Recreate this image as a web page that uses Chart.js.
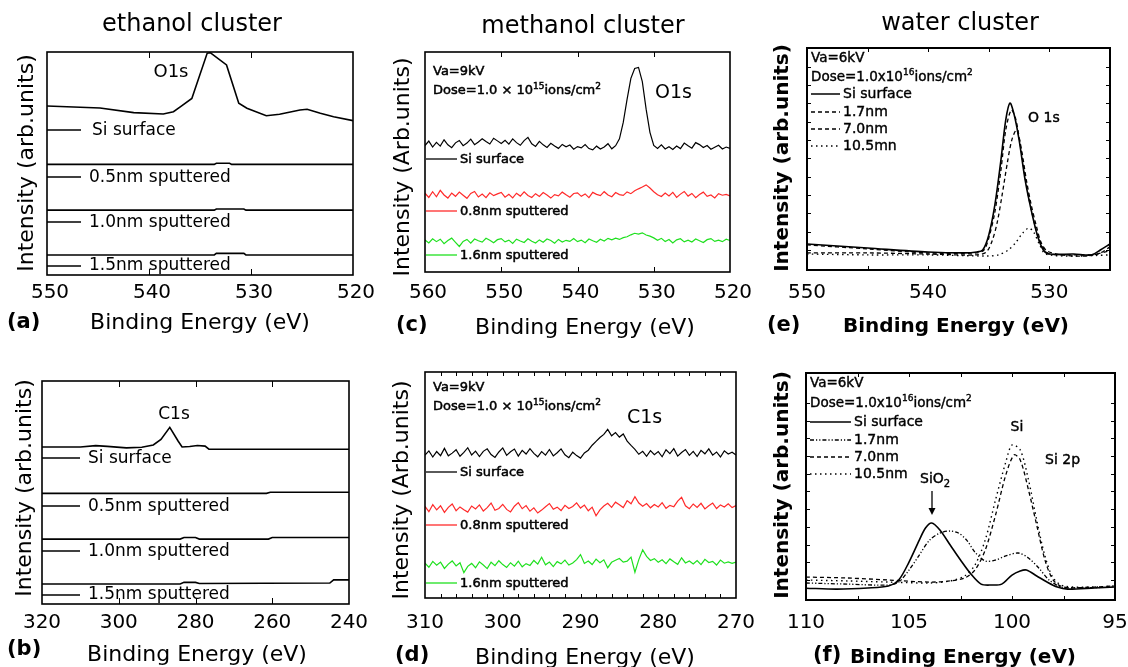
<!DOCTYPE html>
<html>
<head>
<meta charset="utf-8">
<script src="https://cdn.jsdelivr.net/npm/chart.js@4/dist/chart.umd.min.js"></script>
<style>
  body { margin: 0; background: #fff; width: 1128px; height: 667px; overflow: hidden; position: relative; }
  canvas { position: absolute; left: 0; top: 0; }
</style>
</head>
<body>
<canvas id="pa" width="1128" height="667"></canvas>
<canvas id="pb" width="1128" height="667"></canvas>
<canvas id="pc" width="1128" height="667"></canvas>
<canvas id="pd" width="1128" height="667"></canvas>
<canvas id="pe" width="1128" height="667"></canvas>
<canvas id="pf" width="1128" height="667"></canvas>
<script>
// ---------- data (intensity in arbitrary units, 0-100 per panel) ----------

// tick labels
const aTicks = [550, 540, 530, 520];
const bTicks = [320, 300, 280, 260, 240];
const cTicks = [560, 550, 540, 530, 520];
const dTicks = [310, 300, 290, 280, 270];
const eTicks = [550, 540, 530];
const fTicks = [110, 105, 100, 95];

// (a) ethanol cluster, O1s
const aSurfE = [550, 544.8, 541.5, 538.6, 537.6, 536.8, 535.8, 534.3, 534.0, 532.4, 531.2, 530.4, 528.5, 527.2, 525.2, 524.5, 523.2, 521.9, 520];
const aSurfI = [75.8, 74.9, 72.8, 72.2, 73.2, 75.8, 79.2, 99.4, 99.7, 94.2, 77.0, 74.8, 71.4, 72.1, 74.0, 74.3, 72.5, 71.0, 69.2];
const aS05E = [550, 533.6, 533.4, 532.1, 531.9, 520];
const aS05I = [49.6, 49.6, 50.1, 50.1, 49.6, 49.6];
const aS10E = [550, 533.6, 533.4, 530.7, 530.5, 520];
const aS10I = [29.1, 29.1, 29.6, 29.6, 29.1, 29.1];
const aS15E = [550, 533.6, 533.4, 530.7, 530.5, 520];
const aS15I = [9.0, 9.0, 9.7, 9.7, 9.0, 9.0];

// (b) ethanol cluster, C1s
const bSurfE = [320, 310, 306, 303, 298, 294, 291, 289, 286.7, 284.5, 283.5, 281.5, 279.5, 277.5, 276.5, 240];
const bSurfI = [70.4, 70.4, 71.0, 70.7, 70.0, 70.3, 71.3, 73.8, 79.2, 73.0, 70.4, 70.6, 71.1, 70.8, 69.4, 69.4];
const bS05E = [320, 261.5, 260.5, 240];
const bS05I = [49.6, 49.6, 50.1, 50.1];
const bS10E = [320, 284, 283, 280, 279, 261, 260, 240];
const bS10I = [29.1, 29.1, 29.8, 29.8, 29.1, 29.1, 29.8, 29.8];
const bS15E = [320, 284, 283, 280, 279, 245, 244, 240];
const bS15I = [9.0, 9.0, 9.7, 9.7, 9.2, 9.4, 10.8, 10.8];

// (c) methanol cluster, O1s
const cEnergy = [560, 559.5, 559, 558.5, 558, 557.5, 557, 556.5, 556, 555.5, 555, 554.5, 554, 553.5, 553, 552.5, 552, 551.5, 551, 550.5,
  550, 549.5, 549, 548.5, 548, 547.5, 547, 546.5, 546, 545.5, 545, 544.5, 544, 543.5, 543, 542.5, 542, 541.5, 541, 540.5,
  540, 539.5, 539, 538.5, 538, 537.5, 537, 536.5, 536, 535.5, 535, 534.5, 534, 533.5, 533, 532.5, 532, 531.5, 531, 530.5,
  530, 529.5, 529, 528.5, 528, 527.5, 527, 526.5, 526, 525.5, 525, 524.5, 524, 523.5, 523, 522.5, 522, 521.5, 521, 520.5, 520];
const cSurf = [57.5, 59.5, 56.8, 58.9, 57.2, 60.1, 57.8, 56.5, 58.7, 59.8, 57.4, 58.6, 60.4, 57.9, 59.1, 60.6, 59.3, 58.2, 60.8, 59.6,
  58.4, 59.9, 58.1, 60.5, 58.8, 57.6, 59.7, 61.2, 58.3, 57.1, 59.4, 57.8, 56.6, 58.5, 57.3, 56.2, 58.0, 56.9, 57.7, 55.8,
  57.0, 56.4, 57.9, 56.1, 55.5, 57.2, 55.9, 56.8, 58.3, 56.0, 57.4, 60.5, 68.0, 78.5, 88.0, 92.5, 93.0, 86.5, 74.0, 63.5,
  57.5, 56.2, 57.8, 55.9, 56.9, 55.7, 57.3, 56.1, 58.6, 57.4, 56.3, 58.8, 57.9, 56.6, 57.5, 55.8, 56.7, 57.6, 55.9, 56.8, 56.2];
const cS08 = [35.8, 33.9, 36.5, 34.2, 37.1, 35.0, 33.6, 35.9, 34.4, 36.3, 34.9, 33.5, 35.7, 36.6, 34.1, 35.4, 33.8, 36.0, 34.7, 35.5,
  36.2, 34.0, 35.3, 33.7, 35.8, 34.5, 36.4, 34.8, 33.9, 35.6, 34.3, 36.1, 35.0, 33.6, 35.2, 34.6, 36.3, 35.1, 34.0, 35.7,
  36.0, 34.4, 35.5, 33.8, 36.2, 35.3, 34.7, 36.5, 35.0, 34.2, 36.1, 35.2, 34.8, 36.4, 35.6, 36.9, 37.8, 38.6, 39.6, 38.2,
  36.5, 35.1, 34.3, 35.9, 34.6, 36.2, 33.9, 35.4, 36.6, 34.5, 35.7, 33.8, 35.2, 36.3, 34.4, 35.0, 33.7, 35.6, 34.9, 35.3, 34.6];
const cS16 = [14.6, 13.2, 15.1, 13.8, 14.9, 12.9, 14.3, 15.4, 13.5, 11.6, 13.9, 14.8, 13.1, 15.0, 14.2, 13.6, 15.3, 14.4, 13.3, 14.7,
  15.2, 13.7, 14.5, 13.0, 14.9, 14.1, 13.4, 15.1, 14.0, 13.2, 14.6, 13.5, 15.0, 14.3, 13.1, 14.8, 13.6, 14.4, 13.9, 15.2,
  13.8, 14.5, 13.3, 15.0, 14.2, 13.5, 14.9, 14.1, 15.3, 14.6, 15.4, 14.8, 15.6, 16.0, 16.9, 17.6, 17.2, 17.8, 16.8, 16.3,
  15.5, 14.4, 15.3, 13.9, 14.8, 13.2, 14.6, 15.1, 13.7, 14.5, 13.6, 15.0, 14.2, 13.4, 14.7, 15.2, 13.9, 14.5, 13.8, 14.9, 14.3];

// (d) methanol cluster, C1s
const dEnergy = [310, 309.5, 309, 308.5, 308, 307.5, 307, 306.5, 306, 305.5, 305, 304.5, 304, 303.5, 303, 302.5, 302, 301.5, 301, 300.5,
  300, 299.5, 299, 298.5, 298, 297.5, 297, 296.5, 296, 295.5, 295, 294.5, 294, 293.5, 293, 292.5, 292, 291.5, 291, 290.5,
  290, 289.5, 289, 288.5, 288, 287.5, 287, 286.5, 286, 285.5, 285, 284.5, 284, 283.5, 283, 282.5, 282, 281.5, 281, 280.5,
  280, 279.5, 279, 278.5, 278, 277.5, 277, 276.5, 276, 275.5, 275, 274.5, 274, 273.5, 273, 272.5, 272, 271.5, 271, 270.5, 270];
const dSurf = [63.2, 65.1, 62.4, 64.8, 63.0, 66.2, 62.9, 64.1, 65.6, 62.7, 64.4, 66.5, 63.3, 65.0, 62.6, 64.9, 66.0, 63.5, 62.2, 64.6,
  66.4, 63.1, 64.7, 65.9, 62.8, 65.3, 63.7, 66.1, 64.0, 62.5, 64.8, 63.2, 65.7, 62.9, 64.3, 66.0, 63.4, 62.1, 64.5, 63.0,
  61.9, 64.2, 65.4, 67.6, 69.3, 71.0, 72.4, 74.6, 71.8, 73.2, 71.2, 72.6, 69.4, 67.5, 65.8, 63.6, 64.9, 62.7, 65.2, 63.4,
  64.8, 62.5, 65.6, 63.9, 66.1, 62.8, 64.4, 65.7, 63.1, 64.9, 62.6, 65.3, 63.8, 66.0, 63.2, 64.6, 62.4, 65.1, 63.7, 64.5, 63.3];
const dS08 = [40.5, 38.2, 41.3, 39.0, 40.8, 37.9, 40.1, 41.6, 38.6, 40.3, 39.1, 38.0, 40.7, 39.4, 41.2, 38.5, 40.0, 42.0, 38.8, 39.6,
  41.4, 39.2, 38.1, 40.6, 42.2, 39.5, 40.9, 38.4, 39.9, 37.6, 38.9, 40.4, 41.8, 39.3, 40.2, 38.7, 41.0, 39.6, 40.5, 42.1,
  39.8, 41.1, 38.6, 40.2, 36.4, 39.0, 40.7, 41.9, 40.1, 42.4, 41.3, 40.0, 43.1, 41.7, 44.8, 42.0, 40.6, 41.8, 39.9, 41.4,
  40.3, 42.2, 39.7, 41.0, 40.4, 42.9, 44.6, 40.8, 39.5, 41.6, 40.1, 41.9, 39.4, 40.8, 42.0, 39.6, 41.2, 40.3, 41.7, 40.0, 40.9];
const dS16 = [15.4, 13.6, 16.2, 14.5, 15.9, 13.1, 15.0, 16.4, 14.2, 15.6, 11.2, 14.0, 15.3, 13.4, 16.0, 14.6, 13.0, 15.8, 14.3, 16.5,
  14.8, 13.5, 15.6, 14.1, 16.3, 13.8, 15.2, 14.4, 16.6, 15.0, 18.0, 14.7, 15.9, 13.9, 16.1, 15.1, 16.8, 14.6, 15.5, 17.0,
  19.2, 15.3, 16.4, 14.8, 17.2, 15.6, 16.9, 13.4, 15.8, 16.7, 17.5, 15.9, 16.3, 18.1, 11.4, 17.0, 21.3, 18.4, 16.6, 17.4,
  15.8, 16.9, 15.2, 17.3, 16.0, 14.9, 17.8, 15.5, 16.4, 15.1, 16.6, 14.8, 17.1, 15.7, 16.2, 14.6, 16.8, 15.4, 16.0, 15.3, 15.9];

// (e) water cluster, O 1s
const eSurfE = [550, 545, 540, 537, 536, 535.5, 535.0, 534.5, 534.0, 533.6, 533.25, 532.9, 532.5, 532.0, 531.5, 531.0, 530.5, 530.0, 528, 526.5, 525.8, 525];
const eSurfI = [11.7, 9.9, 8.1, 7.7, 8.1, 9.0, 15.8, 29.3, 49.5, 67.6, 75.2, 69.8, 58.6, 40.5, 27.0, 15.8, 9.0, 7.2, 7.2, 6.8, 9.0, 11.7];
const e17E = [550, 545, 540, 536, 535.4, 535, 534.5, 534, 533.6, 533.15, 532.8, 532.4, 531.9, 531.4, 530.9, 530.4, 530, 528, 526, 525];
const e17I = [11.3, 9.5, 7.7, 7.7, 9.0, 14.4, 26.1, 45.0, 63.1, 72.1, 68.5, 56.3, 38.3, 24.8, 14.4, 9.0, 7.2, 6.8, 7.2, 10.4];
const e70E = [550, 545, 540, 536, 535.2, 534.7, 534.3, 533.9, 533.5, 533.1, 532.7, 532.3, 531.9, 531.5, 531.1, 530.7, 530.2, 529, 527, 525];
const e70I = [7.7, 7.7, 7.2, 6.8, 8.1, 13.5, 21.6, 33.8, 47.3, 58.6, 63.1, 54.1, 40.5, 29.3, 20.3, 12.6, 8.6, 6.8, 6.3, 8.6];
const e105E = [550, 545, 540, 535, 534.2, 533.4, 532.8, 532.2, 531.7, 531.3, 530.8, 530.3, 528, 525];
const e105I = [7.2, 6.8, 6.8, 6.3, 6.8, 9.0, 12.2, 16.7, 18.9, 17.1, 11.3, 7.2, 6.3, 6.8];

// (f) water cluster, Si 2p
const fSurfE = [110, 108.5, 107, 106, 105.5, 105, 104.5, 104.2, 103.9, 103.5, 103.0, 102.5, 102.0, 101.5, 101.0, 100.5, 100.0, 99.6, 99.3, 98.8, 98.3, 97.8, 97.3, 96.0, 95.0];
const fSurfI = [5.2, 4.8, 5.3, 6.2, 8.8, 16.7, 26.4, 31.7, 33.9, 30.8, 24.2, 17.6, 11.5, 7.0, 6.6, 7.0, 11.0, 12.8, 13.2, 10.6, 7.9, 5.7, 4.8, 5.3, 5.7];
const f17E = [110, 108, 106, 105.5, 105, 104.5, 104.0, 103.5, 103.0, 102.6, 102.2, 101.8, 101.3, 100.8, 100.3, 99.7, 99.2, 98.7, 98.2, 97.6, 97, 95];
const f17I = [7.5, 7.0, 6.6, 7.9, 13.2, 19.8, 26.4, 29.5, 30.4, 29.5, 26.4, 21.1, 17.2, 17.6, 19.4, 20.7, 18.5, 14.1, 8.8, 5.7, 5.3, 5.7];
const f70E = [110, 108, 106, 104, 103, 102.3, 101.8, 101.3, 100.8, 100.3, 99.9, 99.6, 99.2, 98.8, 98.4, 98.0, 97.5, 96, 95];
const f70I = [10.1, 9.7, 8.8, 7.9, 8.4, 9.7, 13.2, 22.0, 37.4, 55.1, 63.9, 61.7, 48.5, 33.0, 17.6, 8.8, 5.7, 5.7, 6.2];
const f105E = [110, 108, 106, 104, 103, 102.3, 101.8, 101.3, 100.8, 100.3, 100.0, 99.6, 99.2, 98.8, 98.4, 98.0, 97.5, 96, 95];
const f105I = [8.8, 8.4, 7.9, 7.5, 8.4, 10.6, 15.4, 26.4, 44.1, 60.8, 68.3, 66.1, 52.9, 35.2, 19.4, 9.7, 6.2, 5.7, 6.2];

// ---------- drawing ----------
const W = 1128, H = 667;
const FF = "'DejaVu Sans', sans-serif";
const RED = '#ff2a2a', GREEN = '#1fe01f';
const DASH = [4, 3], DOT = [1.5, 3.5], DASHDOT = [4, 2, 1.2, 2, 1.2, 2];

function pts(xs, ys) {
  return xs.map((x, i) => ({ x: x, y: ys[i] }));
}

function line(data, color, width, dash, tension) {
  return {
    data: data, borderColor: color, borderWidth: width,
    borderDash: dash || [], tension: tension || 0, fill: false, pointRadius: 0
  };
}

function drawText(ctx, t) {
  ctx.save();
  ctx.fillStyle = '#000';
  ctx.strokeStyle = '#000';
  ctx.textBaseline = 'middle';
  ctx.textAlign = 'left';
  ctx.translate(t.x, t.y);
  if (t.rot) ctx.rotate(t.rot);
  const parts = t.parts || [{ s: t.s }];
  let w = 0;
  parts.forEach(p => {
    ctx.font = (p.sup || p.sub) ? t.small : t.font;
    p.w = ctx.measureText(p.s).width;
    w += p.w;
  });
  let x = t.align === 'center' ? -w / 2 : (t.align === 'right' ? -w : 0);
  parts.forEach(p => {
    ctx.font = (p.sup || p.sub) ? t.small : t.font;
    const y = p.sup ? -t.shift : (p.sub ? t.shift : 0);
    ctx.fillText(p.s, x, y);
    if (t.heavy) { ctx.lineWidth = t.heavy; ctx.strokeText(p.s, x, y); }
    x += p.w;
  });
  ctx.restore();
}

// frame, inward ticks, tick labels, legend samples and all the labels
const decoPlugin = {
  id: 'deco',
  afterDraw(chart, args, o) {
    const ctx = chart.ctx, a = chart.chartArea;
    const xs = chart.scales.x, ys = chart.scales.y;
    ctx.save();
    ctx.strokeStyle = '#000';
    ctx.setLineDash([]);
    ctx.lineWidth = o.frame;
    ctx.strokeRect(a.left, a.top, a.right - a.left, a.bottom - a.top);

    ctx.lineWidth = 1;
    ctx.beginPath();
    (o.xTicks || []).forEach(v => {
      const p = Math.round(xs.getPixelForValue(v)) + 0.5;
      ctx.moveTo(p, a.bottom); ctx.lineTo(p, a.bottom - o.tick);
      ctx.moveTo(p, a.top); ctx.lineTo(p, a.top + o.tick);
    });
    (o.yTicks || []).forEach(v => {
      const p = Math.round(ys.getPixelForValue(v)) + 0.5;
      ctx.moveTo(a.left, p); ctx.lineTo(a.left + o.tick, p);
      ctx.moveTo(a.right, p); ctx.lineTo(a.right - o.tick, p);
    });
    ctx.stroke();

    ctx.fillStyle = '#000';
    ctx.font = o.tickFont;
    ctx.textAlign = 'center';
    ctx.textBaseline = 'middle';
    o.labels.forEach(v => ctx.fillText(String(v), xs.getPixelForValue(v) + (o.labelShift || 0), o.labelY));

    (o.samples || []).forEach(s => {
      ctx.beginPath();
      ctx.strokeStyle = s.color || '#000';
      ctx.lineWidth = s.width || 1.5;
      ctx.setLineDash(s.dash || []);
      ctx.moveTo(s.x1, s.y); ctx.lineTo(s.x2, s.y);
      ctx.stroke();
    });
    ctx.setLineDash([]);

    (o.arrows || []).forEach(r => {
      ctx.strokeStyle = '#000'; ctx.fillStyle = '#000'; ctx.lineWidth = 1.3;
      ctx.beginPath(); ctx.moveTo(r.x, r.y1); ctx.lineTo(r.x, r.y2 - 5); ctx.stroke();
      ctx.beginPath(); ctx.moveTo(r.x - 3.5, r.y2 - 7); ctx.lineTo(r.x + 3.5, r.y2 - 7); ctx.lineTo(r.x, r.y2); ctx.closePath(); ctx.fill();
    });

    (o.texts || []).forEach(t => drawText(ctx, t));
    ctx.restore();
  }
};

function makePanel(id, box, xMin, xMax, datasets, deco) {
  const ctx = document.getElementById(id).getContext('2d');
  new Chart(ctx, {
    type: 'line',
    data: { datasets: datasets },
    options: {
      responsive: false,
      animation: false,
      devicePixelRatio: 1,
      layout: { padding: { left: box[0], top: box[1], right: W - box[2], bottom: H - box[3] } },
      scales: {
        x: { type: 'linear', min: xMin, max: xMax, reverse: true, display: false },
        y: { type: 'linear', min: 0, max: 100, display: false }
      },
      plugins: { legend: { display: false }, tooltip: { enabled: false }, deco: deco }
    },
    plugins: [decoPlugin]
  });
}

// shared text styles
const TITLE = '24px ' + FF;
const AXIS = '22px ' + FF;
const AXISB = 'bold 20px ' + FF;
const LETTER = 'bold 21px ' + FF;
const TICKF = '20px ' + FF;
const LEG = '17px ' + FF;
const SMALLC = '13px ' + FF;
const SMALL = '13.5px ' + FF;
const LEGE = '14px ' + FF;

function t(s, x, y, font, align, heavy) { return { s: s, x: x, y: y, font: font, align: align || 'left', heavy: heavy }; }
function ylab(s, x, y, font) { return { s: s, x: x, y: y, font: font, align: 'center', rot: -Math.PI / 2 }; }
function dose(exp, times, x, y, font, small, heavy) {
  return { parts: [{ s: 'Dose=1.0' + times + '10' }, { s: exp, sup: true }, { s: 'ions/cm' }, { s: '2', sup: true }],
    x: x, y: y, font: font, small: small, shift: 4, heavy: heavy };
}

// (a)
makePanel('pa', [47, 52, 353, 275], 520, 550, [
  line(pts(aSurfE, aSurfI), '#000', 1.6),
  line(pts(aS05E, aS05I), '#000', 1.6),
  line(pts(aS10E, aS10I), '#000', 1.6),
  line(pts(aS15E, aS15I), '#000', 1.6)
], {
  frame: 1.6, tick: 6, xTicks: [540, 530], labels: aTicks, labelY: 293, tickFont: TICKF, labelShift: 3,
  samples: [130, 177, 222, 266].map(y => ({ x1: 47, x2: 81, y: y, width: 1.6 })),
  texts: [
    t('ethanol cluster', 192, 25, TITLE, 'center'),
    t('(a)', 7, 323, LETTER),
    t('Binding Energy (eV)', 200, 323, AXIS, 'center'),
    ylab('Intensity (arb.units)', 27, 163, AXIS),
    t('O1s', 171, 72, '18px ' + FF, 'center'),
    t('Si surface', 92, 131, LEG),
    t('0.5nm sputtered', 89, 178, LEG),
    t('1.0nm sputtered', 89, 223, LEG),
    t('1.5nm sputtered', 89, 266, LEG)
  ]
});

// (b)
makePanel('pb', [42, 381, 349, 604], 240, 320, [
  line(pts(bSurfE, bSurfI), '#000', 1.6),
  line(pts(bS05E, bS05I), '#000', 1.6),
  line(pts(bS10E, bS10I), '#000', 1.6),
  line(pts(bS15E, bS15I), '#000', 1.6)
], {
  frame: 1.6, tick: 6, xTicks: [300, 280, 260], labels: bTicks, labelY: 623, tickFont: TICKF,
  samples: [458, 506, 551, 595].map(y => ({ x1: 42, x2: 80, y: y, width: 1.6 })),
  texts: [
    t('(b)', 7, 650, LETTER),
    t('Binding Energy (eV)', 197, 655, AXIS, 'center'),
    ylab('Intensity (arb.units)', 25, 488, AXIS),
    t('C1s', 174, 415, '17px ' + FF, 'center'),
    t('Si surface', 88, 459, LEG),
    t('0.5nm sputtered', 88, 507, LEG),
    t('1.0nm sputtered', 88, 552, LEG),
    t('1.5nm sputtered', 88, 595, LEG)
  ]
});

// (c)
makePanel('pc', [425, 52, 730, 272], 520, 560, [
  line(pts(cEnergy, cSurf), '#000', 1.2),
  line(pts(cEnergy, cS08), RED, 1.2),
  line(pts(cEnergy, cS16), GREEN, 1.2)
], {
  frame: 1.6, tick: 5, xTicks: [550, 540, 530], labels: cTicks, labelY: 293, tickFont: TICKF, labelShift: 3,
  samples: [
    { x1: 426, x2: 457, y: 159, width: 1.3 },
    { x1: 426, x2: 457, y: 211, width: 1.3, color: RED },
    { x1: 426, x2: 457, y: 255, width: 1.3, color: GREEN }
  ],
  texts: [
    t('methanol cluster', 583, 27, TITLE, 'center'),
    t('(c)', 396, 326, LETTER),
    t('Binding Energy (eV)', 585, 328, AXIS, 'center'),
    ylab('Intensity (Arb.units)', 403, 167, AXIS),
    t('Va=9kV', 433, 72, SMALLC, 'left', 0.5),
    dose('15', ' × ', 433, 91, SMALLC, '9px ' + FF, 0.5),
    t('O1s', 655, 93, '19px ' + FF),
    t('Si surface', 460, 160, SMALLC, 'left', 0.5),
    t('0.8nm sputtered', 460, 212, SMALLC, 'left', 0.5),
    t('1.6nm sputtered', 460, 256, SMALLC, 'left', 0.5)
  ]
});

// (d)
makePanel('pd', [425, 372, 736, 598], 270, 310, [
  line(pts(dEnergy, dSurf), '#000', 1.2),
  line(pts(dEnergy, dS08), RED, 1.2),
  line(pts(dEnergy, dS16), GREEN, 1.2)
], {
  frame: 1.6, tick: 4,
  xTicks: [308, 306, 304, 302, 300, 298, 296, 294, 292, 290, 288, 286, 284, 282, 280, 278, 276, 274, 272],
  labels: dTicks, labelY: 623, tickFont: TICKF,
  samples: [
    { x1: 426, x2: 457, y: 472, width: 1.3 },
    { x1: 426, x2: 457, y: 525, width: 1.3, color: RED },
    { x1: 426, x2: 457, y: 583, width: 1.3, color: GREEN }
  ],
  texts: [
    t('(d)', 395, 656, LETTER),
    t('Binding Energy (eV)', 585, 658, AXIS, 'center'),
    ylab('Intensity (Arb.units)', 402, 490, AXIS),
    t('Va=9kV', 433, 388, SMALLC, 'left', 0.5),
    dose('15', ' × ', 433, 407, SMALLC, '9px ' + FF, 0.5),
    t('C1s', 627, 418, '19px ' + FF),
    t('Si surface', 460, 473, SMALLC, 'left', 0.5),
    t('0.8nm sputtered', 460, 526, SMALLC, 'left', 0.5),
    t('1.6nm sputtered', 460, 584, SMALLC, 'left', 0.5)
  ]
});

// (e)
const eYT = [], fYT = [];
for (let k = 0; k < 11; k++) { eYT.push(9.0 + k * 8.26); fYT.push(8.8 + k * 7.8); }
makePanel('pe', [807, 48, 1110, 270], 525, 550, [
  line(pts(eSurfE, eSurfI), '#000', 1.6, [], 0.3),
  line(pts(e17E, e17I), '#000', 1.3, DASH, 0.3),
  line(pts(e70E, e70I), '#000', 1.3, DASH, 0.3),
  line(pts(e105E, e105I), '#000', 1.4, DOT, 0.3)
], {
  frame: 2, tick: 4, xTicks: [545, 540, 535, 530], yTicks: eYT, labels: eTicks, labelY: 293, tickFont: TICKF,
  samples: [
    { x1: 811, x2: 840, y: 94, width: 1.5 },
    { x1: 811, x2: 840, y: 112, width: 1.3, dash: DASH },
    { x1: 811, x2: 840, y: 129, width: 1.3, dash: DASH },
    { x1: 811, x2: 840, y: 146, width: 1.4, dash: DOT }
  ],
  texts: [
    t('water cluster', 960, 24, TITLE, 'center'),
    t('(e)', 767, 326, LETTER),
    t('Binding Energy (eV)', 956, 327, AXISB, 'center'),
    ylab('Intensity (arb.units)', 783, 158, AXISB),
    t('Va=6kV', 811, 58, SMALL, 'left', 0.4),
    dose('16', 'x', 811, 77, SMALL, '9px ' + FF, 0.4),
    t('Si surface', 843, 94, LEGE, 'left', 0.4),
    t('1.7nm', 843, 112, LEGE, 'left', 0.4),
    t('7.0nm', 843, 129, LEGE, 'left', 0.4),
    t('10.5mn', 843, 146, LEGE, 'left', 0.4),
    t('O 1s', 1028, 118, LEGE, 'left', 0.4)
  ]
});

// (f)
makePanel('pf', [806, 373, 1115, 600], 95, 110, [
  line(pts(fSurfE, fSurfI), '#000', 1.6, [], 0.3),
  line(pts(f17E, f17I), '#000', 1.3, DASHDOT, 0.3),
  line(pts(f70E, f70I), '#000', 1.3, DASH, 0.3),
  line(pts(f105E, f105I), '#000', 1.4, DOT, 0.3)
], {
  frame: 2, tick: 4, xTicks: [107.5, 105, 102.5, 100, 97.5], yTicks: fYT, labels: fTicks, labelY: 623, tickFont: TICKF,
  samples: [
    { x1: 810, x2: 851, y: 422, width: 1.5 },
    { x1: 810, x2: 851, y: 440, width: 1.3, dash: DASHDOT },
    { x1: 810, x2: 851, y: 457, width: 1.3, dash: DASH },
    { x1: 810, x2: 851, y: 474, width: 1.4, dash: DOT }
  ],
  arrows: [{ x: 932, y1: 491, y2: 515 }],
  texts: [
    t('(f)', 813, 656, LETTER),
    t('Binding Energy (eV)', 963, 658, AXISB, 'center'),
    ylab('Intensity (arb.units)', 783, 485, AXISB),
    t('Va=6kV', 810, 383, SMALL, 'left', 0.4),
    dose('16', 'x', 810, 403, SMALL, '9px ' + FF, 0.4),
    t('Si surface', 854, 422, LEGE, 'left', 0.4),
    t('1.7nm', 854, 440, LEGE, 'left', 0.4),
    t('7.0nm', 854, 457, LEGE, 'left', 0.4),
    t('10.5nm', 854, 474, LEGE, 'left', 0.4),
    t('Si', 1017, 427, LEGE, 'center', 0.4),
    t('Si 2p', 1045, 460, LEGE, 'left', 0.4),
    { parts: [{ s: 'SiO' }, { s: '2', sub: true }], x: 920, y: 479, font: LEGE, small: '10px ' + FF, shift: 5, heavy: 0.4 }
  ]
});
</script>
</body>
</html>
